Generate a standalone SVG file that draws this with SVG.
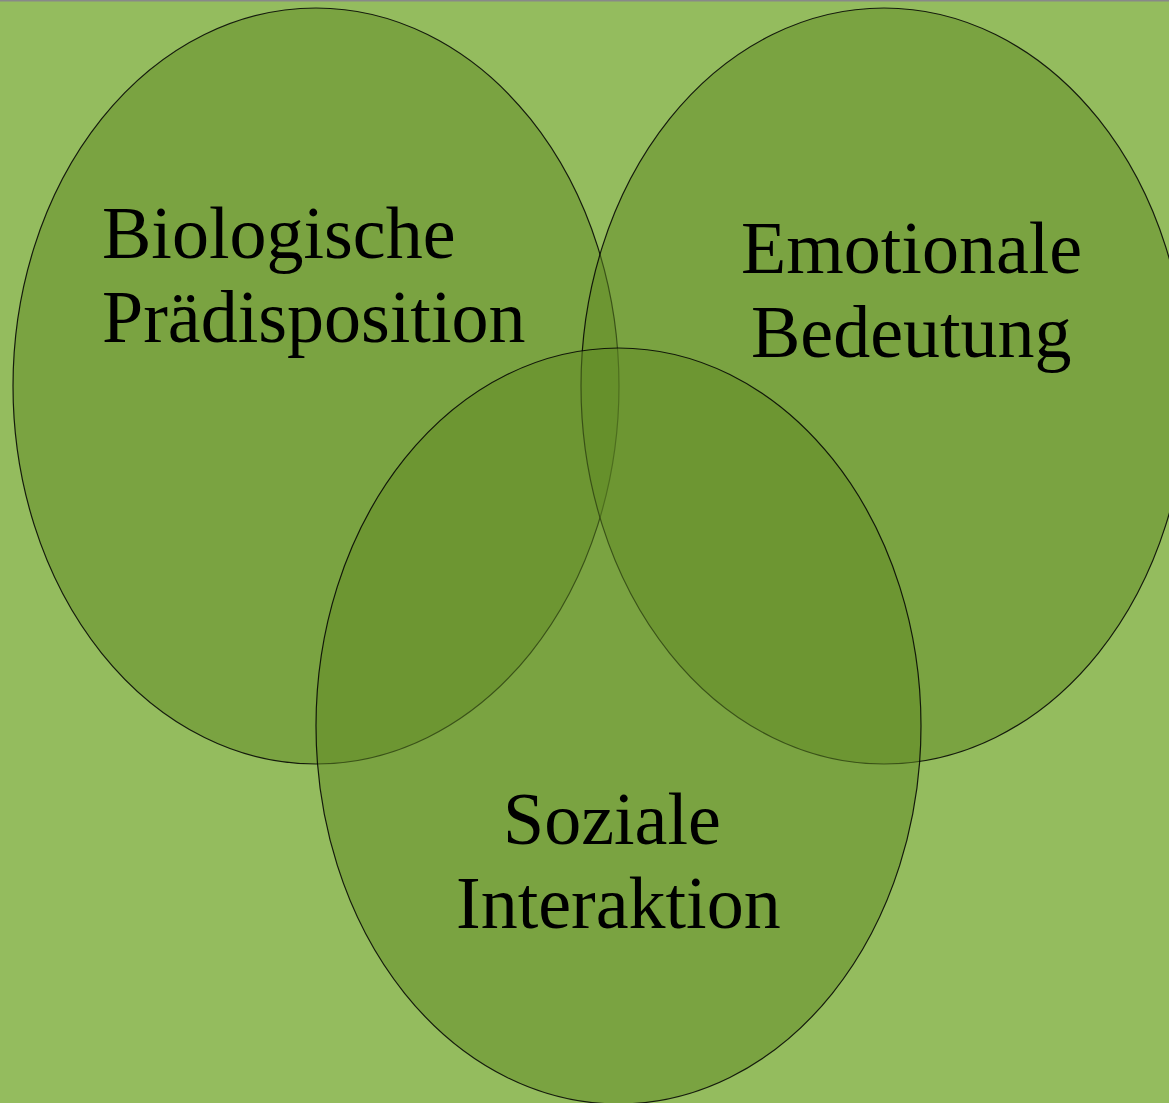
<svg xmlns="http://www.w3.org/2000/svg" width="1169" height="1103" viewBox="0 0 1169 1103">
<style>
.el{fill:#5f8a24;fill-opacity:0.5;stroke:#000;stroke-opacity:0.85;stroke-width:1.2}
.t{font-family:"Liberation Serif","Times New Roman",serif;font-size:74px;fill:#000}
</style>
<rect x="0" y="0" width="1169" height="1103" fill="#94bc5e"/>
<rect x="0" y="0" width="1169" height="1.5" fill="#888888"/>
<g id="node-bio"><ellipse class="el" cx="316" cy="386" rx="303" ry="378"/></g>
<g id="node-emo"><ellipse class="el" cx="884" cy="386" rx="303" ry="378"/></g>
<g id="node-soz"><ellipse class="el" cx="618.5" cy="726" rx="302.5" ry="378"/></g>
<g id="labels">
<text class="t" x="102" y="258">Biologische</text>
<text class="t" x="102" y="342">Prädisposition</text>
<text class="t" x="741" y="273">Emotionale</text>
<text class="t" x="751" y="357">Bedeutung</text>
<text class="t" x="503" y="844">Soziale</text>
<text class="t" x="456" y="928">Interaktion</text>
</g>
<g id="connectors"></g>
</svg>
